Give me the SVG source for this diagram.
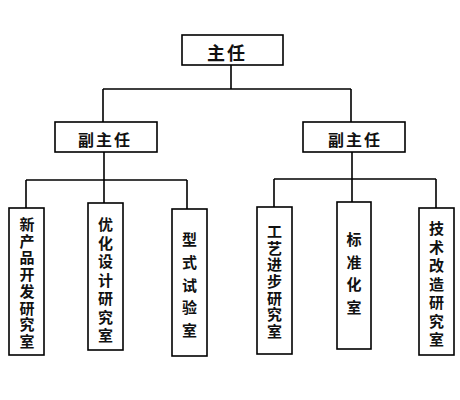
<svg xmlns="http://www.w3.org/2000/svg" width="460" height="400" viewBox="0 0 460 400">
<style>
.box{fill:#fff;stroke:#000;stroke-width:1.6}
.ln{fill:none;stroke:#000;stroke-width:1.6}
text{font-family:"Noto Sans CJK SC","Noto Sans",sans-serif;font-weight:bold;fill:#111;text-anchor:middle;dominant-baseline:central}
.t1{font-size:18px}
.t2{font-size:16px}
.t3{font-size:15px}
</style>
<rect width="460" height="400" fill="#fff"/>
<g id="connectors">
<path class="ln" d="M231,65 V89 M103,89 H351 M103,89 V122 M351,89 V122"/>
<path class="ln" d="M104,152 V180 M26,180 H187 M26,180 V208 M104,180 V203 M187,180 V209"/>
<path class="ln" d="M352,152 V179 M274,179 H436 M274,179 V207 M352,179 V202 M436,179 V208"/>
</g>
<g id="n0"><rect class="box" x="182" y="35" width="101" height="30"/><text class="t1" x="227" y="52" letter-spacing="2">主任</text></g>
<g id="n1"><rect class="box" x="55" y="122" width="102" height="30"/><text class="t2" x="105" y="138.5" letter-spacing="2">副主任</text></g>
<g id="n2"><rect class="box" x="303" y="122" width="102" height="30"/><text class="t2" x="355" y="138.5" letter-spacing="2">副主任</text></g>
<g id="n3"><rect class="box" x="9" y="208" width="35" height="147"/>
<text class="t3"><tspan x="27" y="223">新</tspan><tspan x="27" y="239.7">产</tspan><tspan x="27" y="256.4">品</tspan><tspan x="27" y="273.1">开</tspan><tspan x="27" y="289.9">发</tspan><tspan x="27" y="306.6">研</tspan><tspan x="27" y="323.3">究</tspan><tspan x="27" y="340">室</tspan></text></g>
<g id="n4"><rect class="box" x="88" y="203" width="35" height="147"/>
<text class="t3"><tspan x="105.5" y="223">优</tspan><tspan x="105.5" y="241.5">化</tspan><tspan x="105.5" y="260">设</tspan><tspan x="105.5" y="278.5">计</tspan><tspan x="105.5" y="297">研</tspan><tspan x="105.5" y="315.5">究</tspan><tspan x="105.5" y="334">室</tspan></text></g>
<g id="n5"><rect class="box" x="172" y="209" width="35" height="147"/>
<text class="t3"><tspan x="189.5" y="238">型</tspan><tspan x="189.5" y="260.8">式</tspan><tspan x="189.5" y="283.5">试</tspan><tspan x="189.5" y="306.3">验</tspan><tspan x="189.5" y="329">室</tspan></text></g>
<g id="n6"><rect class="box" x="257" y="207" width="35" height="147"/>
<text class="t3"><tspan x="274.5" y="230">工</tspan><tspan x="274.5" y="246.7">艺</tspan><tspan x="274.5" y="263.3">进</tspan><tspan x="274.5" y="280">步</tspan><tspan x="274.5" y="296.7">研</tspan><tspan x="274.5" y="313.3">究</tspan><tspan x="274.5" y="330">室</tspan></text></g>
<g id="n7"><rect class="box" x="337" y="202" width="34" height="147"/>
<text class="t3"><tspan x="354" y="238">标</tspan><tspan x="354" y="260.7">准</tspan><tspan x="354" y="283.3">化</tspan><tspan x="354" y="306">室</tspan></text></g>
<g id="n8"><rect class="box" x="419" y="208" width="35" height="147"/>
<text class="t3"><tspan x="436.5" y="227">技</tspan><tspan x="436.5" y="245.5">术</tspan><tspan x="436.5" y="264">改</tspan><tspan x="436.5" y="282.5">造</tspan><tspan x="436.5" y="301">研</tspan><tspan x="436.5" y="319.5">究</tspan><tspan x="436.5" y="338">室</tspan></text></g>
</svg>
